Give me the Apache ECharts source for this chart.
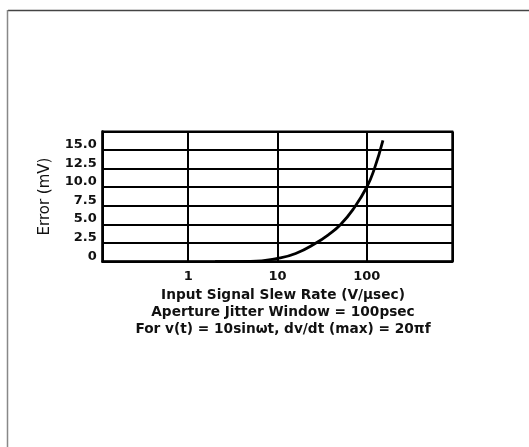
<!DOCTYPE html>
<html>
<head>
<meta charset="utf-8">
<script src="https://cdn.jsdelivr.net/npm/echarts@6/dist/echarts.min.js"></script>
<style>
html,body{margin:0;padding:0;background:#fff;}
#main{width:529px;height:447px;}
</style>
</head>
<body>
<div id="main"></div>
<script>
// values
var slewRate = [2, 5, 10, 16, 27, 38, 51, 70, 100, 122, 152];
var errorMv  = [0, 0.05, 0.45, 1.1, 2.5, 3.7, 5.0, 7.0, 10.0, 12.5, 16.3];
var xTickLabels = [1, 10, 100];
var yTickLabels = ['0', '2.5', '5.0', '7.5', '10.0', '12.5', '15.0'];
var captionLines = [
	'Input Signal Slew Rate (V/\u00b5sec)',
	'Aperture Jitter Window = 100psec',
	'For v(t) = 10sin\u03c9t, dv/dt (max) = 20\u03c0f'
];

var myChart = echarts.init(document.getElementById('main'));
var font = 'DejaVu Sans';

var pts = [];
for (var i = 0; i < slewRate.length; i++) pts.push([slewRate[i], errorMv[i]]);

var option = {
	animation: false,
	title: {
		text: captionLines.join('\n'),
		left: 283, top: 286.5, padding: 0,
		textAlign: 'center',
		textStyle: {fontFamily: font, fontSize: 13.7, fontWeight: 'bold', color: '#111', lineHeight: 17}
	},
	graphic: [
		{type: 'line', shape: {x1: 8, y1: 10.5, x2: 529, y2: 10.5}, style: {stroke: '#444', lineWidth: 1.5}},
		{type: 'line', shape: {x1: 7.5, y1: 10, x2: 7.5, y2: 447}, style: {stroke: '#888', lineWidth: 1.5}}
	],
	grid: {
		left: 102.7, right: 76.7, top: 131.4, bottom: 185.3,
		show: true, borderColor: '#000', borderWidth: 2
	},
	xAxis: {
		type: 'log', logBase: 10, min: 0.11, max: 910,
		axisLine: {lineStyle: {color: '#000', width: 2.5}},
		axisTick: {show: false},
		splitLine: {show: true, lineStyle: {color: '#000', width: 2}},
		axisLabel: {
			margin: 8, fontFamily: font, fontSize: 13, fontWeight: 'bold', color: '#111',
			formatter: function(v){
				for (var k = 0; k < xTickLabels.length; k++) {
					if (Math.abs(v - xTickLabels[k]) < 1e-6 * xTickLabels[k]) return String(xTickLabels[k]);
				}
				return '';
			}
		}
	},
	yAxis: {
		type: 'value', min: 0, max: 17.5, interval: 2.5,
		name: 'Error (mV)', nameLocation: 'middle', nameGap: 50,
		nameTextStyle: {fontFamily: font, fontSize: 15, color: '#111'},
		axisLine: {show: true, lineStyle: {color: '#000', width: 2.5}},
		axisTick: {show: false},
		splitLine: {show: true, lineStyle: {color: '#000', width: 2}},
		axisLabel: {
			margin: 6, fontFamily: font, fontSize: 13, fontWeight: 'bold', color: '#111',
			verticalAlign: 'bottom', lineHeight: 11,
			formatter: function(v){
				var idx = Math.round(v / 2.5);
				return yTickLabels[idx] || '';
			}
		}
	},
	series: [{
		type: 'line',
		data: pts,
		smooth: 0.5,
		showSymbol: false,
		lineStyle: {color: '#000', width: 2.8}
	}]
};
myChart.setOption(option);
</script>
</body>
</html>
